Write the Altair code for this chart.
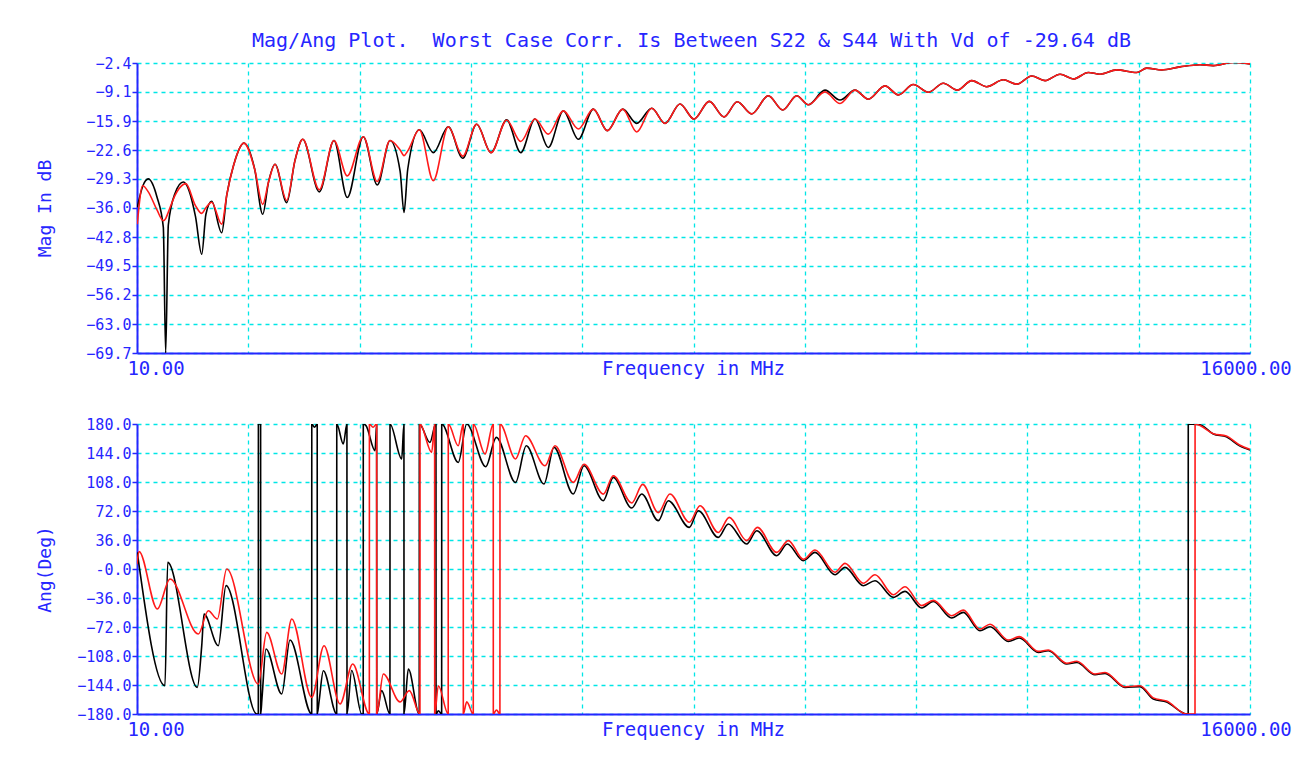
import altair as alt
import pandas as pd

TITLE = "Mag/Ang Plot.\u00a0 Worst Case Corr. Is Between S22 & S44 With Vd of -29.64 dB"
SERIES = ["S22", "S44"]
X_LABELS = ["10.00", "Frequency in MHz", "16000.00"]
X_LABEL_F = [10, 8005, 16000]
X_GRID = [10, 1609, 3208, 4807, 6406, 8005, 9604, 11203, 12802, 14401, 16000]
MAG_TICKS = [-2.4, -9.1, -15.9, -22.6, -29.3, -36.0, -42.8, -49.5, -56.2, -63.0, -69.7]
ANG_TICKS = [180, 144, 108, 72, 36, 0, -36, -72, -108, -144, -180]

# magnitude: (freq MHz, S22 dB, S44 dB)
MAG = [
    (14, -35.9, -39.8), (92, -31.0, -30.9), (172, -29.3, -32.3), (297, -33.5, -36.5),
    (388, -40.5, -39.0), (422, -69.7, -38.5), (460, -40.0, -37.0), (560, -32.5, -33.0),
    (675, -30.0, -30.6), (710, -30.4, -30.4), (850, -38.0, -35.5), (940, -46.8, -37.3),
    (1000, -37.5, -36.0), (1083, -34.5, -34.7), (1227, -41.8, -39.8), (1300, -33.0, -33.0),
    (1400, -26.0, -26.0), (1547, -21.0, -21.0), (1700, -27.0, -27.0), (1816, -37.5, -35.2),
    (1900, -30.0, -30.0), (1993, -25.9, -25.9), (2161, -34.8, -34.3), (2280, -25.0, -25.0),
    (2391, -20.1, -20.1), (2629, -32.3, -31.8), (2840, -20.4, -20.4), (3031, -33.6, -28.6),
    (3261, -19.5, -19.5), (3462, -30.7, -29.9), (3645, -20.4, -20.4), (3790, -27.5, -22.6),
    (3846, -37.1, -23.9), (3900, -27.0, -22.8), (4066, -17.9, -17.9), (4267, -23.2, -29.7),
    (4482, -17.2, -17.2), (4689, -24.5, -24.0), (4890, -16.6, -16.6), (5096, -23.2, -23.2),
    (5321, -15.6, -15.7), (5523, -23.2, -20.6), (5728, -15.4, -15.4), (5919, -22.0, -18.9),
    (6135, -13.5, -13.5), (6350, -20.1, -17.7), (6566, -13.1, -13.1), (6767, -18.1, -18.1),
    (6988, -13.1, -13.1), (7189, -16.4, -18.4), (7405, -12.9, -12.9), (7596, -16.4, -16.4),
    (7811, -11.9, -11.9), (8012, -15.4, -15.4), (8232, -11.3, -11.3), (8443, -14.9, -14.9),
    (8634, -11.4, -11.4), (8841, -14.2, -14.2), (9080, -10.0, -10.0), (9287, -13.3, -13.3),
    (9488, -10.0, -10.0), (9655, -12.1, -12.1), (9894, -8.7, -9.1), (10110, -11.0, -11.8),
    (10325, -8.7, -8.7), (10516, -10.8, -10.8), (10756, -7.7, -7.7), (10948, -9.8, -9.8),
    (11163, -7.4, -7.4), (11379, -9.2, -9.2), (11594, -7.1, -7.1), (11795, -8.7, -8.7),
    (12002, -6.5, -6.5), (12218, -7.9, -7.9), (12456, -6.3, -6.3), (12648, -7.3, -7.3),
    (12864, -5.4, -5.4), (13055, -6.5, -6.5), (13271, -5.0, -5.0), (13462, -6.1, -6.1),
    (13677, -4.6, -4.6), (13845, -5.0, -5.0), (14085, -4.0, -4.0), (14373, -4.6, -4.6),
    (14516, -3.6, -3.6), (14732, -4.0, -4.0), (14995, -3.3, -3.3), (15282, -2.8, -2.8),
    (15473, -3.0, -3.0), (15760, -2.3, -2.3), (16000, -2.6, -2.6),
]

# angle S22 (black): (freq MHz, deg) in drawing order, wraps included
ANG_S22 = [
    (14, 20.6), (412, -144.9), (451, 8.2), (876, -147.0), (940, -95.2), (973, -55.9),
    (1178, -95.2), (1289, -20.7), (1730, -180), (1753, -180), (1754, 180), (1786, 180),
    (1787, -180), (1806, -160), (1863, -99.3), (2089, -155.2), (2208, -88.2), (2520, -180),
    (2521, 180), (2560, 176), (2599, 180), (2600, -180), (2625, -165), (2687, -126.3),
    (2879, -180), (2880, 180), (2974, 155.2), (3026, 180), (3027, -180), (3094, -126.0),
    (3238, -180), (3260, -180), (3261, 180), (3300, 178), (3430, 146.9), (3453, 180),
    (3454, -180), (3525, -151), (3644, -180), (3645, 180), (3813, 136.6), (3845, 180),
    (3846, -180), (3908, -124.2), (4065, -180), (4066, 180), (4219, 157.2), (4290, 178),
    (4305, 180), (4306, -180), (4340, -176), (4387, -180), (4388, 180), (4626, 132.3),
    (4747, 180), (5020, 127), (5172, 163.4), (5448, 107.5), (5603, 153), (5857, 105.5),
    (6001, 151), (6278, 93.1), (6432, 128.2), (6709, 84.8), (6853, 113.7), (7117, 75.7),
    (7261, 93.1), (7499, 60), (7643, 84.8), (7945, 51.7), (8074, 72.4), (8361, 39.2),
    (8505, 55.9), (8769, 31), (8913, 47.5), (9200, 16.5), (9353, 31), (9583, 10.3),
    (9751, 20.6), (10038, -7.1), (10182, 2.0), (10445, -20.7), (10613, -14.5), (10876, -35.2),
    (11044, -27.8), (11284, -48.4), (11450, -40.2), (11715, -60.8), (11881, -53.9),
    (12121, -76.6), (12265, -71.6), (12528, -89.9), (12686, -85.7), (12959, -103.5),
    (13103, -101.4), (13367, -118), (13511, -116), (13773, -131.2), (13917, -129.6),
    (14204, -147), (14420, -146), (14611, -161.4), (14802, -165), (15090, -180),
    (15112, -180), (15113, 180), (15282, 179), (15473, 167.6), (15661, 164), (15850, 153),
    (16000, 147.7),
]

# angle S44 (red)
ANG_S44 = [
    (10, 6), (39, 21.8), (302, -49.7), (484, -12.4), (891, -80.7), (1034, -51.8),
    (1164, -62.1), (1299, 0), (1753, -142.8), (1873, -78.7), (2089, -130.4), (2233, -62.1),
    (2520, -159.4), (2697, -95.2), (2927, -167.6), (3109, -118), (3348, -180), (3349, 180),
    (3401, 176), (3453, 180), (3454, -180), (3549, -130.4), (3788, -165), (3922, -151),
    (4075, -180), (4076, 180), (4244, 144.8), (4286, 180), (4287, -180), (4339, -144.9),
    (4481, -180), (4482, 180), (4625, 153), (4697, 180), (4698, -180), (4747, -165),
    (4841, -180), (4842, 180), (5010, 142.8), (5128, 180), (5129, -180), (5175, -175),
    (5224, -180), (5225, 180), (5448, 136.6), (5592, 165.5), (5872, 128.2), (6015, 153),
    (6278, 107.5), (6432, 130), (6709, 93), (6853, 115.8), (7117, 82), (7275, 105),
    (7499, 70), (7667, 93.1), (7945, 58), (8099, 78.6), (8361, 45.4), (8519, 64.1),
    (8769, 35.2), (8922, 51.7), (9200, 20.6), (9367, 35.2), (9583, 12), (9751, 23.5),
    (10038, -4.1), (10182, 7), (10445, -17.6), (10613, -7.1), (10876, -31.9), (11044, -22),
    (11284, -45.5), (11450, -39), (11715, -58), (11881, -51), (12121, -74.5), (12265, -68.5),
    (12528, -88.2), (12686, -84), (12959, -102.3), (13103, -100.6), (13367, -117),
    (13511, -114.6), (13773, -130.4), (13917, -128.4), (14204, -146.2), (14420, -145),
    (14611, -160), (14802, -164), (15090, -180), (15210, -180), (15211, 180), (15282, 178),
    (15473, 168), (15661, 165), (15850, 154), (16000, 148.5),
]

BLUE = "#2626ff"
CYAN = "#00e6e6"
FONT = "DejaVu Sans Mono"
W, H = 1113, 290

rows = []
for i, (f, a, b) in enumerate(MAG):
    rows.append({"f": f, "v": a, "s": "S22", "i": i})
    rows.append({"f": f, "v": b, "s": "S44", "i": i})
mag_df = pd.DataFrame(rows)

rows = []
for i, (f, a) in enumerate(ANG_S22):
    rows.append({"f": f, "v": a, "s": "S22", "i": i})
for i, (f, a) in enumerate(ANG_S44):
    rows.append({"f": f, "v": a, "s": "S44", "i": i})
ang_df = pd.DataFrame(rows)

xlab_df = pd.DataFrame({"f": X_LABEL_F, "t": X_LABELS})


def panel(df, ytitle, ydomain, yticks, label_expr, with_title):
    x = alt.X("f:Q", scale=alt.Scale(domain=[10, 16000], nice=False, zero=False),
              axis=alt.Axis(values=X_GRID, labels=False, ticks=False, title=None,
                            domainColor=BLUE, domainWidth=2,
                            gridColor=CYAN, gridDash=[4, 4], gridWidth=1.3))
    y = alt.Y("v:Q", scale=alt.Scale(domain=ydomain, nice=False, zero=False),
              axis=alt.Axis(values=yticks, labelExpr=label_expr,
                            tickColor=BLUE, tickSize=5, tickWidth=1.5,
                            labelColor=BLUE, labelFont=FONT, labelFontSize=15, labelPadding=1,
                            domainColor=BLUE, domainWidth=2,
                            gridColor=CYAN, gridDash=[4, 4], gridWidth=1.3,
                            title=ytitle, titleColor=BLUE, titleFont=FONT, titleFontSize=18,
                            titleFontWeight="normal", titleX=-92, titleY=H / 2,
                            titleAngle=270, titleAlign="center", titleBaseline="middle"))
    lines = alt.Chart(df).mark_line(strokeWidth=1.6, interpolate="monotone", clip=True).encode(
        x=x, y=y,
        color=alt.Color("s:N", scale=alt.Scale(domain=SERIES, range=["#000000", "#ff1a1a"]), legend=None),
        order="i:Q",
    )
    layers = [lines]
    offsets = [19, 0, -4]
    for lab, dx in zip(X_LABELS, offsets):
        layers.append(
            alt.Chart(xlab_df).transform_filter(alt.datum.t == lab)
            .mark_text(font=FONT, fontSize=19, color=BLUE, align="center", baseline="middle", dx=dx)
            .encode(x=alt.X("f:Q"), y=alt.value(H + 16), text="t:N")
        )
    if with_title:
        layers.append(
            alt.Chart(pd.DataFrame({"t": [TITLE]}))
            .mark_text(font=FONT, fontSize=20, color=BLUE, align="center", baseline="middle")
            .encode(x=alt.value(W / 2 - 2), y=alt.value(-22), text="t:N")
        )
    return alt.layer(*layers).properties(width=W, height=H)


top = panel(mag_df, "Mag In dB", [-69.7, -2.4], MAG_TICKS, "format(datum.value, '.1f')", True)
bottom = panel(ang_df, "Ang(Deg)", [-180, 180], ANG_TICKS,
               "datum.value == 0 ? '-0.0' : format(datum.value, '.1f')", False)

chart = alt.vconcat(top, bottom, spacing=71, bounds="flush").properties(
    padding={"left": 28, "top": 23, "right": 0, "bottom": 5}
).configure_view(strokeWidth=0)

chart.save("out.html", embed_options={"renderer": "svg", "actions": False})
